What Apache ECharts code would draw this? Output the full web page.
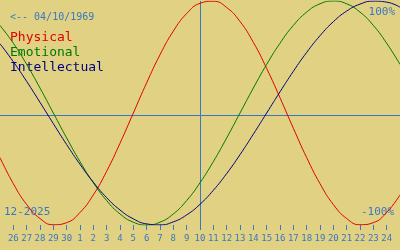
<!DOCTYPE html>
<html>
<head>
<meta charset="utf-8">
<style>
html,body{margin:0;padding:0;background:#e0d282;}
#c{width:400px;height:250px;}
</style>
<script src="https://cdn.jsdelivr.net/npm/echarts@6/dist/echarts.min.js"></script>
</head>
<body>
<div id="c"></div>
<script>
// Days shown: 25 Nov 2025 .. 25 Dec 2025 (first and last only at the edges)
var categories = ['11-25','11-26','11-27','11-28','11-29','11-30',
  '12-01','12-02','12-03','12-04','12-05','12-06','12-07','12-08','12-09','12-10',
  '12-11','12-12','12-13','12-14','12-15','12-16','12-17','12-18','12-19','12-20',
  '12-21','12-22','12-23','12-24','12-25'];
var todayCategory = '12-10';
var birthLabel = '<-- 04/10/1969';
var monthLabel = '12-2025';
var seriesNames = ['Physical','Emotional','Intellectual'];
var topLabel = '100%';
var bottomLabel = '-100%';

var physical = [-0.398,-0.631,-0.817,-0.942,-0.998,-0.979,-0.888,-0.731,-0.520,-0.270,
  0.000,0.270,0.520,0.731,0.888,0.979,0.998,0.942,0.817,0.631,0.398,0.136,-0.136,
  -0.398,-0.631,-0.817,-0.942,-0.998,-0.979,-0.888,-0.731];
var emotional = [0.782,0.623,0.434,0.223,0.000,-0.223,-0.434,-0.623,-0.782,-0.901,
  -0.975,-1.000,-0.975,-0.901,-0.782,-0.623,-0.434,-0.223,0.000,0.223,0.434,0.623,
  0.782,0.901,0.975,1.000,0.975,0.901,0.782,0.623,0.434];
var intellectual = [0.618,0.458,0.282,0.095,-0.095,-0.282,-0.458,-0.618,-0.756,-0.866,
  -0.945,-0.990,-0.999,-0.972,-0.910,-0.815,-0.690,-0.541,-0.372,-0.189,0.000,0.189,
  0.372,0.541,0.690,0.815,0.910,0.972,0.999,0.990,0.945];
var baseline = -0.016;

var BLUE = '#3b76c4';
var COLORS = ['#e00000','#007800','#000080'];
var MONO = '"DejaVu Sans Mono", "Liberation Mono", monospace';

var chart = echarts.init(document.getElementById('c'), null, {renderer:'canvas'});
var last = categories.length - 1;
function inner(i){ return i > 0 && i < last; }

var series = [
  {name: seriesNames[0], data: physical, color: COLORS[0]},
  {name: seriesNames[1], data: emotional, color: COLORS[1]},
  {name: seriesNames[2], data: intellectual, color: COLORS[2]}
].map(function(s, idx){
  var o = {
    name: s.name, type: 'line', data: s.data, smooth: true, symbol: 'none',
    lineStyle: {color: s.color, width: 1}, itemStyle: {color: s.color},
    z: 3 + idx
  };
  if (idx === 0) {
    o.markLine = {
      silent: true, symbol: 'none', animation: false,
      label: {show: false},
      lineStyle: {color: BLUE, width: 1, type: 'solid'},
      data: [{xAxis: todayCategory}, {yAxis: baseline}],
      z: 2
    };
  }
  return o;
});

chart.setOption({
  backgroundColor: '#e0d282',
  animation: false,
  grid: {left: 0, right: 0, top: 1, bottom: 25, containLabel: false},
  xAxis: {
    type: 'category', data: categories, boundaryGap: false,
    axisLine: {show: false, onZero: false},
    axisTick: {show: true, length: 5, interval: function(i){ return inner(i); },
      lineStyle: {color: BLUE, width: 1}},
    axisLabel: {show: true, interval: function(i){ return inner(i); }, margin: 9,
      color: BLUE, fontSize: 9, fontFamily: MONO,
      formatter: function(v){ return String(parseInt(v.split('-')[1], 10)); }},
    splitLine: {show: false}
  },
  yAxis: {type: 'value', min: -1, max: 1, show: false, splitLine: {show: false}},
  series: series,
  graphic: [
    {type:'text', left: 10, top: 12, style:{text: birthLabel, fill: BLUE, font: '10px ' + MONO}},
    {type:'text', left: 10, top: 31, style:{text: seriesNames[0], fill: COLORS[0], font: '13px ' + MONO}},
    {type:'text', left: 10, top: 46, style:{text: seriesNames[1], fill: COLORS[1], font: '13px ' + MONO}},
    {type:'text', left: 10, top: 61, style:{text: seriesNames[2], fill: COLORS[2], font: '13px ' + MONO}},
    {type:'text', right: 5, top: 7, style:{text: topLabel, fill: BLUE, font: '11px ' + MONO}},
    {type:'text', right: 6, top: 207, style:{text: bottomLabel, fill: BLUE, font: '11px ' + MONO}},
    {type:'text', left: 4, top: 207, style:{text: monthLabel, fill: BLUE, font: '11px ' + MONO}}
  ]
});
</script>
</body>
</html>
